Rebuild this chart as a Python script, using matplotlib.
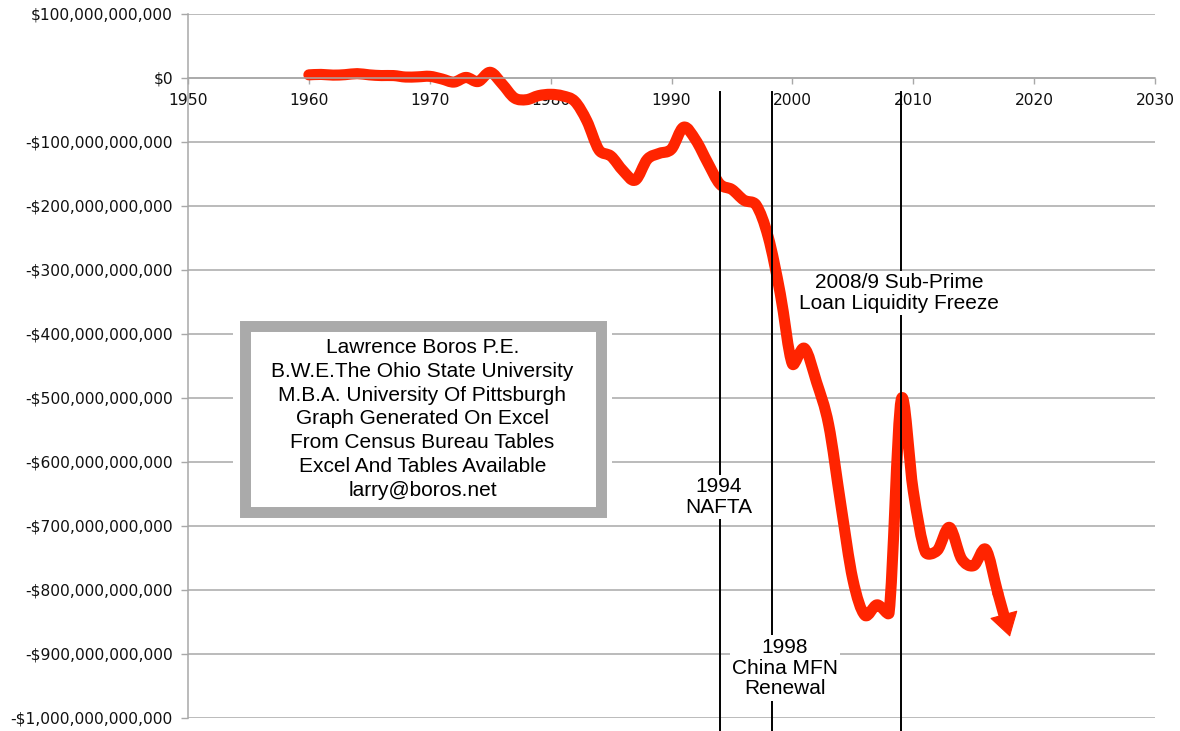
import numpy as np
import matplotlib
matplotlib.use("Agg")
import matplotlib.pyplot as plt
from matplotlib.path import Path
from matplotlib.patches import PathPatch, Rectangle

# ---------------- data (US trade balance, billions of dollars) ----------------
years = list(range(1960, 2019))
balance_bn = [4.9, 5.6, 4.5, 5.2, 6.8, 4.9, 3.8, 3.8, 1.5, 1.8,
              2.6, -1.5, -6.4, 0.9, -5.5, 8.9, -9.5, -31.1, -33.9, -27.6,
              -25.5, -28.0, -36.5, -67.1, -112.5, -122.2, -145.1, -159.6, -127.0, -117.7,
              -111.0, -76.9, -96.9, -132.5, -165.8, -174.2, -191.0, -198.4, -248.2, -337.1,
              -446.8, -422.4, -475.2, -541.6, -665.4, -783.4, -839.5, -823.2, -835.7, -503.0,
              -645.1, -740.6, -738.0, -702.2, -751.5, -761.9, -736.6, -805.0, -873.0]

x_ticks = [1950, 1960, 1970, 1980, 1990, 2000, 2010, 2020, 2030]
y_ticks_bn = [100, 0, -100, -200, -300, -400, -500, -600, -700, -800, -900, -1000]
y_tick_labels = [("$" if v >= 0 else "-$") + f"{abs(v) * 1_000_000_000:,}" for v in y_ticks_bn]

event_years = [1994, 1998.3, 2009]
event_labels = ["1994\nNAFTA", "1998\nChina MFN\nRenewal",
                "2008/9 Sub-Prime\nLoan Liquidity Freeze"]

info_lines = ["Lawrence Boros P.E.",
              "B.W.E.The Ohio State University",
              "M.B.A. University Of Pittsburgh",
              "Graph Generated On Excel",
              "From Census Bureau Tables",
              "Excel And Tables Available",
              "larry@boros.net"]

RED = "#FF2400"
GRID = "#A8A8A8"
W, H = 1180, 731

def fx(px):
    return px / W

def fy(py):
    return 1 - py / H

fig = plt.figure(figsize=(W / 100, H / 100), dpi=100)
ax = fig.add_axes([fx(188), fy(718), fx(1155) - fx(188), fy(14) - fy(718)])

ax.set_xlim(1950, 2030)
ax.set_ylim(-1000, 100)

# grid and axes
ax.set_axisbelow(True)
ax.yaxis.grid(True, color=GRID, lw=1.1)
ax.set_yticks(y_ticks_bn)
ax.set_yticklabels(y_tick_labels)
ax.set_xticks(x_ticks)
ax.set_xticklabels([str(t) for t in x_ticks])
for s in ["top", "right"]:
    ax.spines[s].set_visible(False)
ax.spines["bottom"].set_position(("data", 0))
ax.spines["bottom"].set_color(GRID)
ax.spines["left"].set_color(GRID)
ax.spines["bottom"].set_linewidth(1.1)
ax.spines["left"].set_linewidth(1.1)
ax.tick_params(axis="y", direction="out", length=4.8, width=1.0, color=GRID,
               pad=6, labelsize=11.2, labelcolor="#111111")
ax.tick_params(axis="x", direction="out", length=4.3, width=1.0, color=GRID,
               pad=6.5, labelsize=11.2, labelcolor="#111111")
for lab in ax.get_xticklabels() + ax.get_yticklabels():
    lab.set_fontfamily("DejaVu Sans")

# smoothed (Excel-like) curve through the data, up to the second-last point
P = np.column_stack([years, balance_bn]).astype(float)
D = ax.transData.transform(P)          # display coords, to measure segment lengths
n = len(P)
seg = np.linalg.norm(np.diff(D, axis=0), axis=1)   # seg[i] = |P[i+1]-P[i]| in pixels

def tangent(i):
    a = P[i - 1] if i > 0 else P[i]
    b = P[i + 1] if i < n - 1 else P[i]
    return (b - a) / 6.0

verts = [P[0]]
codes = [Path.MOVETO]
for i in range(n - 2):
    p0, p1 = P[i], P[i + 1]
    t0 = tangent(i)
    t1 = tangent(i + 1)
    # limit control arm by the ratio of neighbouring segment lengths
    f0 = 1.0 if i == 0 else min(1.0, 2.0 * seg[i] / seg[i - 1])
    f1 = min(1.0, 2.0 * seg[i] / seg[i + 1])
    c1 = p0 + t0 * f0
    c2 = p1 - t1 * f1
    verts += [c1, c2, p1]
    codes += [Path.CURVE4] * 3
LW = 8.0
curve = PathPatch(Path(verts, codes), facecolor="none", edgecolor=RED, lw=LW,
                  capstyle="round", joinstyle="round", zorder=2)
ax.add_patch(curve)

# final segment as an arrow
ax.annotate("", xy=tuple(P[-1]), xytext=tuple(P[-2]),
            arrowprops=dict(arrowstyle="-", color=RED, lw=LW, shrinkA=0, shrinkB=13),
            zorder=2)
ax.annotate("", xy=tuple(P[-1]), xytext=tuple(P[-2]),
            arrowprops=dict(arrowstyle="-|>,head_length=0.78,head_width=0.48",
                            mutation_scale=20, color=RED, lw=0.8, shrinkA=0, shrinkB=0),
            zorder=2)

# event lines
for ex in event_years:
    ax.plot([ex, ex], [-22, -1040], color="black", lw=1.4, clip_on=False, zorder=3)

# event labels (positions in pixels)
label_pos = [(719, 497), (785, 668), (899, 293)]
for (px, py), txt in zip(label_pos, event_labels):
    fig.text(fx(px), fy(py), txt, ha="center", va="center", fontsize=15,
             family="Liberation Sans", linespacing=1.13, zorder=4,
             bbox=dict(facecolor="white", edgecolor="none", pad=1.5))

# author info box
fig.patches.append(Rectangle((fx(233), fy(523)), fx(612) - fx(233), fy(314) - fy(523),
                             transform=fig.transFigure, facecolor="white",
                             edgecolor="none", zorder=5))
fig.patches.append(Rectangle((fx(244.5), fy(511.5)), fx(600.5) - fx(244.5),
                             fy(325.5) - fy(511.5), transform=fig.transFigure,
                             facecolor="white", edgecolor="#AAAAAA", lw=7.9,
                             joinstyle="miter", zorder=6))
fig.text(fx(422.5), fy(419), "\n".join(info_lines), ha="center", va="center",
         fontsize=15, family="Liberation Sans", linespacing=1.32, zorder=7)

fig.savefig("out.png", dpi=100)
